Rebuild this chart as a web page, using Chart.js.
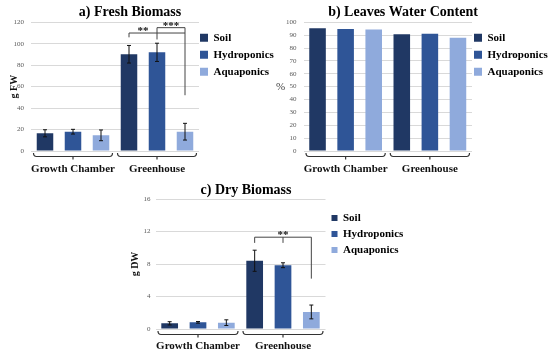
<!DOCTYPE html>
<html>
<head>
<meta charset="utf-8">
<script src="https://cdn.jsdelivr.net/npm/chart.js@4.4.1/dist/chart.umd.min.js"></script>
<style>
  html, body { margin: 0; padding: 0; background: #fff; overflow: hidden; }
  body { position: relative; width: 550px; height: 357px; }
  canvas { position: absolute; }
</style>
</head>
<body>
<canvas id="fresh" width="280" height="180" style="left:0;top:0"></canvas>
<canvas id="water" width="275" height="180" style="left:275px;top:0"></canvas>
<canvas id="dry" width="290" height="177" style="left:120px;top:180px"></canvas>
<script>
const categories = ['Growth Chamber', 'Greenhouse'];
const seriesNames = ['Soil', 'Hydroponics', 'Aquaponics'];
const seriesColors = ['#203864', '#2f5597', '#8faadc'];

// a) fresh biomass (g FW)
const freshSoil = [16.5, 90.2];
const freshHydro = [18, 92];
const freshAqua = [14.6, 18];
const freshSoilErr = [3.3, 8.2];
const freshHydroErr = [2.2, 8.5];
const freshAquaErr = [5, 7.8];
const freshTicks = { min: 0, max: 120, step: 20 };

// b) leaves water content (%)
const waterSoil = [95.3, 90.7];
const waterHydro = [94.8, 91.2];
const waterAqua = [94.5, 88];
const waterTicks = { min: 0, max: 100, step: 10 };

// c) dry biomass (g DW)
const drySoil = [0.7, 8.4];
const dryHydro = [0.82, 7.85];
const dryAqua = [0.78, 2.1];
const drySoilErr = [0.2, 1.3];
const dryHydroErr = [0.1, 0.3];
const dryAquaErr = [0.35, 0.85];
const dryTicks = { min: 0, max: 16, step: 4 };

// significance brackets: group, first/last bar, height, legs [bar, bottom], label
const freshBrackets = [
  { group: 1, from: 0, to: 2, at: 110, drops: [[0, 106]], label: '**', labelAt: 0.5 },
  { group: 1, from: 1, to: 2, at: 115, drops: [[1, 104], [2, 52]], label: '***', labelAt: 1.5 }
];
const dryBrackets = [
  { group: 1, from: 0, to: 2, at: 11.3, drops: [[0, 10.6], [1, 10.6], [2, 6.2]], label: '**', labelAt: 1 }
];

Chart.defaults.font.family = '"Liberation Serif", serif';

// error bars, braces under the groups, brackets and a flat side label
function extras(cfg) {
  return {
    id: 'extras',
    afterDatasetsDraw(chart) {
      const ctx = chart.ctx;
      const y = chart.scales.y;
      ctx.save();
      ctx.strokeStyle = '#111';
      ctx.lineWidth = 1;
      (cfg.errors || []).forEach((errs, i) => {
        const meta = chart.getDatasetMeta(i);
        meta.data.forEach((bar, j) => {
          const v = chart.data.datasets[i].data[j];
          const top = y.getPixelForValue(v + errs[j]);
          const bot = y.getPixelForValue(v - errs[j]);
          ctx.beginPath();
          ctx.moveTo(bar.x, top); ctx.lineTo(bar.x, bot);
          ctx.moveTo(bar.x - 2, top); ctx.lineTo(bar.x + 2, top);
          ctx.moveTo(bar.x - 2, bot); ctx.lineTo(bar.x + 2, bot);
          ctx.stroke();
        });
      });
      ctx.restore();
    },
    afterDraw(chart) {
      const ctx = chart.ctx;
      const area = chart.chartArea;
      const x = chart.scales.x;
      const y = chart.scales.y;
      const w = (area.right - area.left) / categories.length;
      ctx.save();
      ctx.strokeStyle = '#333';
      ctx.lineWidth = 1.2;
      categories.forEach((c, i) => {
        const cx = x.getPixelForValue(i);
        const l = cx - w / 2 + 2.5, r = cx + w / 2 - 2.5, by = area.bottom + 5.5;
        ctx.beginPath();
        ctx.moveTo(l, by - 3.5); ctx.quadraticCurveTo(l, by, l + 3, by);
        ctx.lineTo(r - 3, by); ctx.quadraticCurveTo(r, by, r, by - 3.5);
        ctx.moveTo(cx, by); ctx.lineTo(cx, by + 3);
        ctx.stroke();
      });

      ctx.strokeStyle = '#444';
      ctx.lineWidth = 1;
      ctx.fillStyle = '#111';
      ctx.font = 'bold 11px "Liberation Serif"';
      ctx.textAlign = 'center';
      ctx.textBaseline = 'alphabetic';
      (cfg.brackets || []).forEach(b => {
        const px = k => chart.getDatasetMeta(k).data[b.group].x;
        const ly = y.getPixelForValue(b.at);
        ctx.beginPath();
        ctx.moveTo(px(b.from), ly); ctx.lineTo(px(b.to), ly);
        b.drops.forEach(([k, v]) => {
          ctx.moveTo(px(k), ly); ctx.lineTo(px(k), y.getPixelForValue(v));
        });
        ctx.stroke();
        const a = Math.floor(b.labelAt), f = b.labelAt - a;
        const lx = f ? px(a) + (px(a + 1) - px(a)) * f : px(a);
        ctx.fillText(b.label, lx, ly + 1);
      });

      if (cfg.sideTitle) {
        ctx.font = '11px "Liberation Serif"';
        ctx.fillStyle = '#404040';
        ctx.textBaseline = 'middle';
        ctx.fillText(cfg.sideTitle, area.left - 23, (area.top + area.bottom) / 2);
      }
      ctx.restore();
    }
  };
}

// nudge title and legend blocks after layout (legend box widened so its text is not clipped)
function blockShift(cfg) {
  return {
    id: 'blockShift',
    afterLayout(chart) {
      const t = chart.titleBlock;
      if (t) { t.left += cfg.titleDx; t.right += cfg.titleDx; }
      const lg = chart.legend;
      if (lg) {
        lg.left += cfg.legendDx; lg.right += cfg.legendDx + 40;
        lg.top += cfg.legendDy; lg.bottom += cfg.legendDy;
      }
    }
  };
}

function barChart(id, cfg) {
  return new Chart(document.getElementById(id), {
    type: 'bar',
    data: {
      labels: categories,
      datasets: cfg.series.map((d, i) => ({
        label: seriesNames[i],
        data: d,
        backgroundColor: seriesColors[i],
        barPercentage: 0.59,
        categoryPercentage: 1
      }))
    },
    options: {
      responsive: false,
      animation: false,
      layout: { padding: { left: 0, top: 0, bottom: 0, right: cfg.padRight } },
      plugins: {
        title: {
          display: true, text: cfg.title, color: '#000',
          font: { size: 14, weight: 'bold' },
          padding: cfg.titlePad
        },
        legend: {
          position: 'right', align: 'start', fullSize: false, maxWidth: 50,
          labels: {
            color: '#000', boxWidth: cfg.box, boxHeight: cfg.box, padding: cfg.legendGap,
            font: { size: 11, weight: 'bold' }
          }
        },
        tooltip: { enabled: false }
      },
      scales: {
        x: {
          grid: { display: false, drawTicks: false },
          border: { display: false },
          ticks: {
            color: '#111', padding: cfg.xPad, maxRotation: 0, minRotation: 0, autoSkip: false,
            font: { size: 11, weight: 'bold' }
          },
          afterFit: s => { s.height = cfg.xHeight; }
        },
        y: {
          min: cfg.ticks.min, max: cfg.ticks.max,
          ticks: { stepSize: cfg.ticks.step, padding: cfg.yPad, color: '#595959', font: { size: 7 } },
          grid: { color: '#d9d9d9', drawTicks: false },
          border: { display: false },
          title: {
            display: !!cfg.yTitle, text: cfg.yTitle, color: '#111',
            font: { size: 10, weight: 'bold' },
            padding: { top: cfg.yTitlePad || 0, bottom: 0 }
          },
          afterFit: s => { s.width = cfg.yWidth; }
        }
      }
    },
    plugins: [extras(cfg), blockShift(cfg)]
  });
}

barChart('fresh', {
  title: 'a) Fresh Biomass',
  series: [freshSoil, freshHydro, freshAqua],
  errors: [freshSoilErr, freshHydroErr, freshAquaErr],
  brackets: freshBrackets,
  ticks: freshTicks,
  titlePad: { top: 3.6, bottom: 1.9 }, titleDx: 5.5, padRight: 31,
  box: 8, legendGap: 6, legendDx: -5, legendDy: 4,
  xPad: 12, xHeight: 29,
  yPad: 7, yWidth: 31, yTitle: 'g FW', yTitlePad: 8
});

barChart('water', {
  title: 'b) Leaves Water Content',
  series: [waterSoil, waterHydro, waterAqua],
  ticks: waterTicks,
  titlePad: { top: 3.6, bottom: 1.9 }, titleDx: 4.5, padRight: 28,
  box: 8, legendGap: 6, legendDx: -4, legendDy: 4,
  xPad: 12, xHeight: 29,
  yPad: 7, yWidth: 28.5, sideTitle: '%'
});

barChart('dry', {
  title: 'c) Dry Biomass',
  series: [drySoil, dryHydro, dryAqua],
  errors: [drySoilErr, dryHydroErr, dryAquaErr],
  brackets: dryBrackets,
  ticks: dryTicks,
  titlePad: { top: 1.6, bottom: 0.6 }, titleDx: -1.75, padRight: 34.5,
  box: 6, legendGap: 5, legendDx: 1, legendDy: 8.5,
  xPad: 11, xHeight: 28,
  yPad: 5, yWidth: 35.5, yTitle: 'g DW', yTitlePad: 9
});
</script>
</body>
</html>
